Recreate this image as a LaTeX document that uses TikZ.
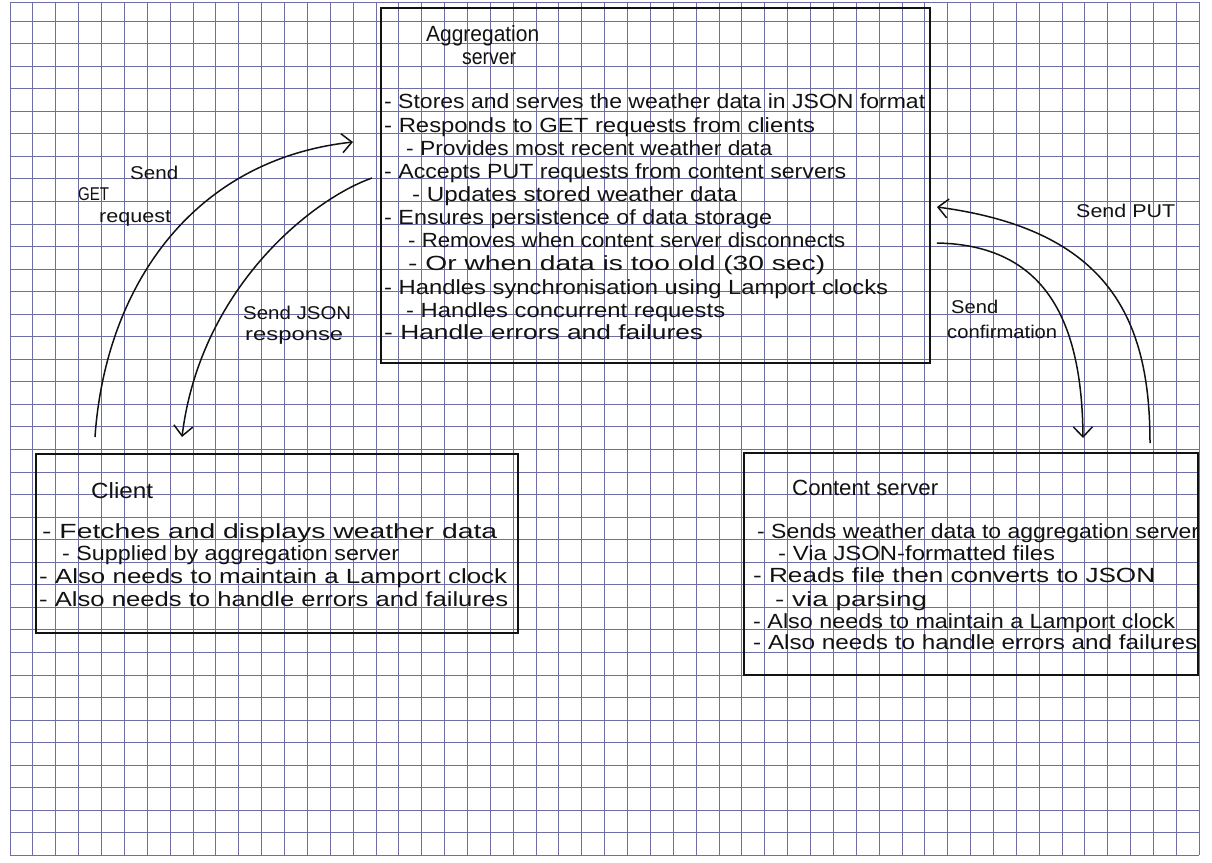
\documentclass[tikz,border=0pt]{standalone}
\usepackage{fontspec}
\setmainfont{Liberation Sans}
\usetikzlibrary{arrows.meta,calc}
\definecolor{gridblue}{RGB}{110,110,165}
\definecolor{ink}{RGB}{18,18,18}
% stretch a line of text horizontally to a given width, keeping its height
\newcommand{\fitw}[2]{\resizebox{#1pt}{\height}{#2}}

\begin{document}
\begin{tikzpicture}[x=1pt,y=-1pt,
  gridline/.style={draw=gridblue,line width=0.85pt},
  box/.style={draw=ink,line width=1.9pt,inner sep=0pt,anchor=north west},
  txt/.style={anchor=west,inner sep=0pt,text=ink,font=\fontsize{20.5}{20.5}\selectfont,
    text height=14pt,text depth=4pt},
  ttl/.style={txt,font=\fontsize{22}{22}\selectfont},
  lbl/.style={txt,font=\fontsize{18.5}{18.5}\selectfont},
  link/.style={draw=ink,line width=1.5pt,
    -{Straight Barb[length=10pt,width=19pt]}},
]
% paper
\fill[white] (0,0) rectangle (1212,862);
\useasboundingbox (0,0) rectangle (1212,862);

% squared grid
\foreach \k in {0,...,52}
  \draw[gridline] ({10+22.87*\k},2) -- ({10+22.87*\k},855.4);
\draw[gridline] (10,2) -- (1199,2);
\foreach \k in {0,...,37}
  \draw[gridline] (10,{21+22.55*\k}) -- (1199,{21+22.55*\k});

% the three components
\node[box,minimum width=549pt,minimum height=355pt] (agg) at (380,7) {};
\node[box,minimum width=482pt,minimum height=179pt] (client) at (35,453) {};
\node[box,minimum width=454pt,minimum height=222pt] (content) at (743,452) {};

% aggregation server
\node[ttl] (aggt1) at (426,36) {\fitw{113}{Aggregation}};
\node[ttl] (aggt2) at (462,59) {\fitw{54}{server}};
\node[txt] (a1) at (384,103) {\fitw{541}{- Stores and serves the weather data in JSON format}};
\node[txt] (a2) at (384,127) {\fitw{431}{- Responds to GET requests from clients}};
\node[txt] (a3) at (406,150) {\fitw{366}{- Provides most recent weather data}};
\node[txt] (a4) at (384,173) {\fitw{462}{- Accepts PUT requests from content servers}};
\node[txt] (a5) at (412,196) {\fitw{325}{- Updates stored weather data}};
\node[txt] (a6) at (384,219) {\fitw{388}{- Ensures persistence of data storage}};
\node[txt] (a7) at (408,242) {\fitw{437}{- Removes when content server disconnects}};
\node[txt] (a8) at (408,265) {\fitw{417}{- Or when data is too old (30 sec)}};
\node[txt] (a9) at (384,289) {\fitw{504}{- Handles synchronisation using Lamport clocks}};
\node[txt] (a10) at (406,312) {\fitw{319}{- Handles concurrent requests}};
\node[txt] (a11) at (384,334) {\fitw{319}{- Handle errors and failures}};

% client
\node[ttl] (clt) at (91,493) {\fitw{62}{Client}};
\node[txt] (c1) at (42,533) {\fitw{455}{- Fetches and displays weather data}};
\node[txt] (c2) at (62,555) {\fitw{337}{- Supplied by aggregation server}};
\node[txt] (c3) at (39,578) {\fitw{468}{- Also needs to maintain a Lamport clock}};
\node[txt] (c4) at (39,601) {\fitw{469}{- Also needs to handle errors and failures}};

% content server
\node[ttl] (cst) at (792,490) {\fitw{146}{Content server}};
\node[txt] (s1) at (757,533) {\fitw{442}{- Sends weather data to aggregation server}};
\node[txt] (s2) at (778,555) {\fitw{277}{- Via JSON-formatted files}};
\node[txt] (s3) at (753,577) {\fitw{402}{- Reads file then converts to JSON}};
\node[txt] (s4) at (775,601) {\fitw{152}{- via parsing}};
\node[txt] (s5) at (753,623) {\fitw{422}{- Also needs to maintain a Lamport clock}};
\node[txt] (s6) at (753,644) {\fitw{444}{- Also needs to handle errors and failures}};

% message flow
\coordinate (getS) at ($(client.north west)+(60,-16)$);
\coordinate (getE) at ($(agg.north west)+(-27,135)$);
\coordinate (jsonS) at ($(agg.north west)+(-8,171)$);
\coordinate (jsonE) at ($(client.north west)+(147,-16)$);
\coordinate (putS) at ($(content.north west)+(407,-9)$);
\coordinate (putE) at ($(agg.north east)+(6,200)$);
\coordinate (confS) at ($(agg.north east)+(6,236)$);
\coordinate (confE) at ($(content.north west)+(340,-14)$);

\draw[link] (getS) .. controls (105,290) and (190,160) .. (getE);
\draw[link] (jsonS) .. controls (310,200) and (200,290) .. (jsonE);
\draw[link] (putS) .. controls (1150,320) and (1110,230) .. (putE);
\draw[link] (confS) .. controls (1045,245) and (1082,320) .. (confE);

% message labels
\node[lbl] (l1) at (130,174) {\fitw{48}{Send}};
\node[lbl] (l2) at (78,195) {\fitw{31}{GET}};
\node[lbl] (l3) at (99,217) {\fitw{72}{request}};
\node[lbl] (l4) at (243,314) {\fitw{108}{Send JSON}};
\node[lbl] (l5) at (245,335) {\fitw{98}{response}};
\node[lbl] (l6) at (1076,212) {\fitw{99}{Send PUT}};
\node[lbl] (l7) at (951,308) {\fitw{47}{Send}};
\node[lbl] (l8) at (947,333) {\fitw{110}{confirmation}};
\end{tikzpicture}
\end{document}
